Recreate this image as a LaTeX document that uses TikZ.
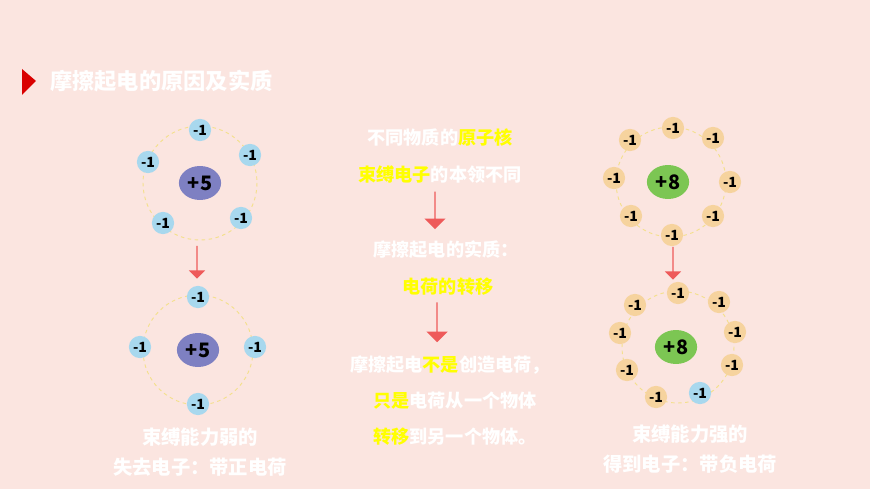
\documentclass[tikz,border=0pt]{standalone}
\usepackage{fontspec}
\newfontfamily\cjk{Noto Sans CJK SC}
\usetikzlibrary{shapes, arrows, positioning}
\definecolor{bgpink}{HTML}{FBE5E0}
\definecolor{elblue}{HTML}{A8D8EE}
\definecolor{elorange}{HTML}{F6D39E}
\definecolor{nucblue}{HTML}{7E80C2}
\definecolor{nucgreen}{HTML}{7CC653}
\definecolor{orbit}{HTML}{F4E08C}
\definecolor{arrowred}{HTML}{EE5A5A}
\definecolor{hiyellow}{HTML}{FFFF00}

\begin{document}
\begin{tikzpicture}[x=0.03cm, y=-0.03cm,
        every node/.style={font=\cjk\bfseries},
        elec/.style={circle, fill=elorange, inner sep=0pt, minimum size=19pt, font=\cjk\bfseries\fontsize{12}{12}\selectfont},
        eblue/.style={elec, fill=elblue},
        nuc/.style={ellipse, inner sep=0pt, minimum width=36pt, minimum height=29pt, font=\cjk\bfseries\fontsize{17}{17}\selectfont},
        ring/.style={draw=orbit, dashed, line width=0.8pt},
        downarrow/.style={single arrow, draw=none, fill=arrowred, shape border rotate=270, minimum height=#1, single arrow head extend=3pt, inner sep=0pt, minimum width=14pt},
        mid/.style={text=white, font=\cjk\bfseries\fontsize{15.5}{15.5}\selectfont},
        caption/.style={text=white, font=\cjk\bfseries\fontsize{16.5}{16.5}\selectfont}
    ]
    \fill[bgpink] (0,0) rectangle (870,489);
    \useasboundingbox (0,0) rectangle (870,489);

    % Title
    \fill[red!85!black] (22,69) -- (36,81) -- (22,95) -- cycle;
    \node[anchor=west, text=white, font=\cjk\bfseries\fontsize{19}{19}\selectfont] (title) at (46,81) {摩擦起电的原因及实质};

    % Left atoms
    \draw[ring] (200,183) circle (57);
    \node[nuc, fill=nucblue] (nucA) at (200,183) {+5};
    \foreach \px/\py [count=\i] in {200/130, 250/155, 241/218, 163/223, 148/162}
        \node[eblue] (ea\i) at (\px,\py) {-1};
    \node[downarrow=28pt] (arrA) at (197,262) {};
    \draw[ring] (198,350) circle (55);
    \node[nuc, fill=nucblue] (nucB) at (198,350) {+5};
    \foreach \px/\py [count=\i] in {198/297, 255/347, 198/404, 140/347}
        \node[eblue] (eb\i) at (\px,\py) {-1};
    \node[caption] (capL1) at (200,437) {束缚能力弱的};
    \node[caption, below=3pt of capL1] (capL2) {失去电子：带正电荷};

    % Right atoms
    \draw[ring] (671,182) circle (55);
    \node[nuc, fill=nucgreen] (nucC) at (668,182) {+8};
    \foreach \px/\py [count=\i] in {673/128, 713/138, 730/182, 713/216, 672/235, 631/216, 614/178, 630/140}
        \node[elec] (ec\i) at (\px,\py) {-1};
    \node[downarrow=28pt] (arrC) at (673,263) {};
    \draw[ring] (678,347) circle (56);
    \node[nuc, fill=nucgreen] (nucD) at (676,347) {+8};
    \foreach \px/\py [count=\i] in {678/293, 719/302, 735/332, 732/365, 656/397, 627/370, 620/333, 635/305}
        \node[elec] (ed\i) at (\px,\py) {-1};
    \node[eblue] (ed9) at (700,393) {-1};
    \node[caption] (capR1) at (690,434) {束缚能力强的};
    \node[caption, below=3pt of capR1] (capR2) {得到电子：带负电荷};

    % Middle text
    \node[mid] (m1) at (440,138) {不同物质的\textcolor{hiyellow}{原子核}};
    \node[mid] (m2) at (440,175) {\textcolor{hiyellow}{束缚电子}的本领不同};
    \node[downarrow=32pt, minimum width=18pt] (arrM1) at (435,210) {};
    \node[mid] (m3) at (446,250) {摩擦起电的实质：};
    \node[mid] (m4) at (448,287) {\textcolor{hiyellow}{电荷的转移}};
    \node[downarrow=34pt, minimum width=18pt] (arrM2) at (437,322) {};
    \node[mid] (m5) at (450,365) {摩擦起电\textcolor{hiyellow}{不是}创造电荷，};
    \node[mid] (m6) at (455,401) {\textcolor{hiyellow}{只是}电荷从一个物体};
    \node[mid] (m7) at (455,437) {\textcolor{hiyellow}{转移}到另一个物体。};
\end{tikzpicture}
\end{document}
